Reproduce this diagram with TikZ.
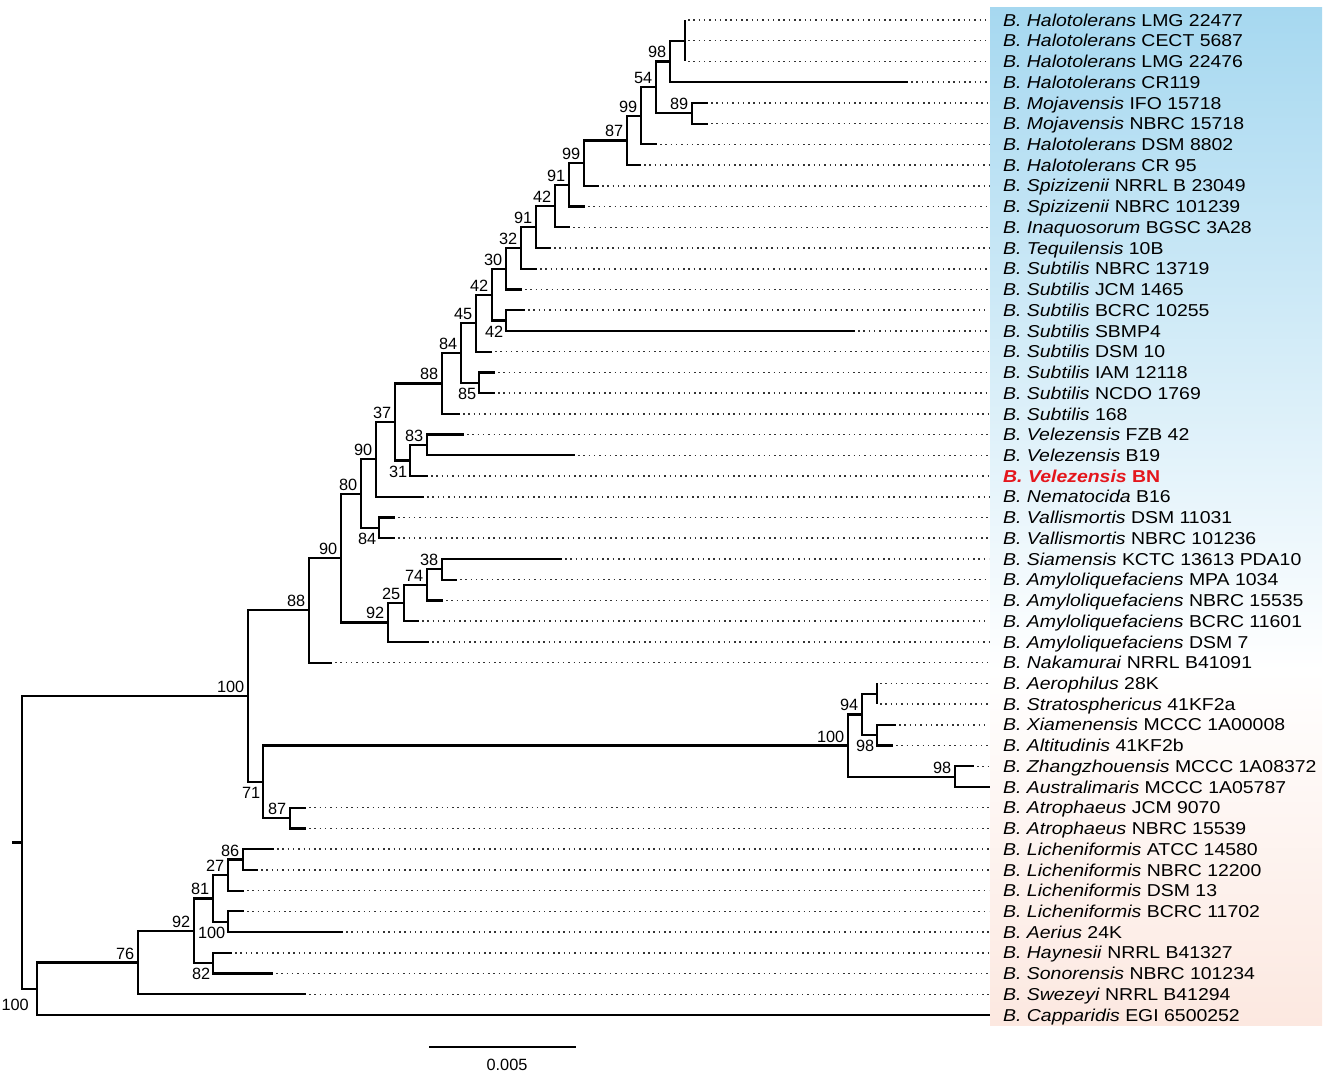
\documentclass[tikz,border=0pt]{standalone}
\usepackage{fontspec}
\setmainfont{Liberation Sans}
\newfontfamily\leaffont[FakeStretch=1.13]{Liberation Sans}
\definecolor{bgblue}{RGB}{166,216,240}
\definecolor{bgpeach}{RGB}{252,232,224}
\definecolor{bnred}{RGB}{228,22,28}
\tikzset{
  br/.style={line width=2.2pt},
  dotl/.style={line width=1.5pt, dash pattern=on 1.5pt off 3.8pt, black!80},
  leaf/.style={anchor=west, inner sep=0pt, text height=12.3pt, text depth=0pt,
    font=\leaffont\fontsize{17.2}{20}\selectfont},
  bsa/.style={anchor=base east, inner sep=0pt, font=\fontsize{16.3}{18}\selectfont},
  bsb/.style={anchor=north east, inner sep=0pt, font=\fontsize{16.3}{18}\selectfont},
}
\begin{document}
\begin{tikzpicture}[x=1pt,y=-1pt]
\useasboundingbox (0,0) rectangle (1325,1077);
% background
\shade[top color=bgblue, bottom color=white] (990,7) rectangle (1322,670.5);
\shade[top color=white, bottom color=bgpeach] (990,670) rectangle (1322,1025);
% leaves
\foreach \i/\tx/\lab in {
 1/685/{\textit{B. Halotolerans} LMG 22477},
 2/685/{\textit{B. Halotolerans} CECT 5687},
 3/685/{\textit{B. Halotolerans} LMG 22476},
 4/908/{\textit{B. Halotolerans} CR119},
 5/708/{\textit{B. Mojavensis} IFO 15718},
 6/708/{\textit{B. Mojavensis} NBRC 15718},
 7/657/{\textit{B. Halotolerans} DSM 8802},
 8/641/{\textit{B. Halotolerans} CR 95},
 9/599/{\textit{B. Spizizenii} NRRL B 23049},
 10/585/{\textit{B. Spizizenii} NBRC 101239},
 11/570/{\textit{B. Inaquosorum} BGSC 3A28},
 12/551/{\textit{B. Tequilensis} 10B},
 13/537/{\textit{B. Subtilis} NBRC 13719},
 14/522/{\textit{B. Subtilis} JCM 1465},
 15/525/{\textit{B. Subtilis} BCRC 10255},
 16/855/{\textit{B. Subtilis} SBMP4},
 17/492/{\textit{B. Subtilis} DSM 10},
 18/495/{\textit{B. Subtilis} IAM 12118},
 19/495/{\textit{B. Subtilis} NCDO 1769},
 20/460/{\textit{B. Subtilis} 168},
 21/464/{\textit{B. Velezensis} FZB 42},
 22/575/{\textit{B. Velezensis} B19},
 23/428/{\textcolor{bnred}{\bfseries\itshape B. Velezensis \upshape BN}},
 24/424/{\textit{B. Nematocida} B16},
 25/395/{\textit{B. Vallismortis} DSM 11031},
 26/395/{\textit{B. Vallismortis} NBRC 101236},
 27/562/{\textit{B. Siamensis} KCTC 13613 PDA10},
 28/457/{\textit{B. Amyloliquefaciens} MPA 1034},
 29/443/{\textit{B. Amyloliquefaciens} NBRC 15535},
 30/419/{\textit{B. Amyloliquefaciens} BCRC 11601},
 31/429/{\textit{B. Amyloliquefaciens} DSM 7},
 32/332/{\textit{B. Nakamurai} NRRL B41091},
 33/877/{\textit{B. Aerophilus} 28K},
 34/877/{\textit{B. Stratosphericus} 41KF2a},
 35/896/{\textit{B. Xiamenensis} MCCC 1A00008},
 36/893/{\textit{B. Altitudinis} 41KF2b},
 37/974/{\textit{B. Zhangzhouensis} MCCC 1A08372},
 38/990/{\textit{B. Australimaris} MCCC 1A05787},
 39/306/{\textit{B. Atrophaeus} JCM 9070},
 40/306/{\textit{B. Atrophaeus} NBRC 15539},
 41/274/{\textit{B. Licheniformis} ATCC 14580},
 42/258/{\textit{B. Licheniformis} NBRC 12200},
 43/244/{\textit{B. Licheniformis} DSM 13},
 44/244/{\textit{B. Licheniformis} BCRC 11702},
 45/343/{\textit{B. Aerius} 24K},
 46/232/{\textit{B. Haynesii} NRRL B41327},
 47/273/{\textit{B. Sonorensis} NBRC 101234},
 48/306/{\textit{B. Swezeyi} NRRL B41294},
 49/990/{\textit{B. Capparidis} EGI 6500252}}{
  \pgfmathsetmacro\yy{20+(\i-1)*20.729}
  \coordinate (L\i) at (\tx,\yy);
  \node[leaf] (T\i) at (1003,\yy) {\lab};
  \ifnum\tx<980
    \draw[dotl, shorten >=14pt, shorten <=3pt] (L\i) -- (T\i.west);
  \fi
}
% internal nodes
\coordinate (Na) at (685,40.73);
\coordinate (N98a) at (670,61.46);
\coordinate (N89) at (692,113.29);
\coordinate (N54) at (656,87.37);
\coordinate (N99a) at (641,115.87);
\coordinate (N87) at (627,140.49);
\coordinate (N99b) at (584,163.16);
\coordinate (N91a) at (569,184.86);
\coordinate (N42a) at (555,206.08);
\coordinate (N91b) at (536,227.05);
\coordinate (N32) at (521,247.90);
\coordinate (N30) at (506,268.69);
\coordinate (N42c) at (506,320.58);
\coordinate (N42b) at (492,294.63);
\coordinate (N45) at (476,323.15);
\coordinate (N85) at (479,382.77);
\coordinate (N84a) at (461,352.96);
\coordinate (N88a) at (442,383.41);
\coordinate (N83) at (427,444.95);
\coordinate (N31) at (410,460.49);
\coordinate (N37) at (395,421.95);
\coordinate (N90a) at (376,459.36);
\coordinate (N84b) at (379,527.87);
\coordinate (N80) at (361,493.61);
\coordinate (N38) at (442,569.33);
\coordinate (N74) at (427,584.87);
\coordinate (N25) at (404,603.01);
\coordinate (N92a) at (388,622.45);
\coordinate (N90b) at (341,558.03);
\coordinate (N88b) at (309,610.32);
\coordinate (Nb) at (877,693.70);
\coordinate (N98b) at (877,735.16);
\coordinate (N94) at (862,714.43);
\coordinate (N98c) at (955,776.62);
\coordinate (N100a) at (848,745.52);
\coordinate (N87b) at (290,818.08);
\coordinate (N71) at (263,781.80);
\coordinate (N100b) at (248,696.06);
\coordinate (N86) at (243,859.54);
\coordinate (N27) at (228,875.08);
\coordinate (N100c) at (228,921.72);
\coordinate (N81) at (213,898.40);
\coordinate (N82) at (213,963.18);
\coordinate (N92b) at (194,930.79);
\coordinate (N76) at (138,962.53);
\coordinate (N100d) at (37,988.77);
\coordinate (Root) at (22,842.41);
\coordinate (R0) at (12,842.41);
% branches
\foreach \p/\c in {Na/L1,Na/L2,Na/L3,N98a/Na,N98a/L4,N89/L5,N89/L6,N54/N98a,N54/N89,
  N99a/N54,N99a/L7,N87/N99a,N87/L8,N99b/N87,N99b/L9,N91a/N99b,N91a/L10,N42a/N91a,N42a/L11,
  N91b/N42a,N91b/L12,N32/N91b,N32/L13,N30/N32,N30/L14,N42c/L15,N42c/L16,N42b/N30,N42b/N42c,
  N45/N42b,N45/L17,N85/L18,N85/L19,N84a/N45,N84a/N85,N88a/N84a,N88a/L20,N83/L21,N83/L22,
  N31/N83,N31/L23,N37/N88a,N37/N31,N90a/N37,N90a/L24,N84b/L25,N84b/L26,N80/N90a,N80/N84b,
  N38/L27,N38/L28,N74/N38,N74/L29,N25/N74,N25/L30,N92a/N25,N92a/L31,N90b/N80,N90b/N92a,
  N88b/N90b,N88b/L32,Nb/L33,Nb/L34,N98b/L35,N98b/L36,N94/Nb,N94/N98b,N98c/L37,N98c/L38,
  N100a/N94,N100a/N98c,N87b/L39,N87b/L40,N71/N100a,N71/N87b,N100b/N88b,N100b/N71,
  N86/L41,N86/L42,N27/N86,N27/L43,N100c/L44,N100c/L45,N81/N27,N81/N100c,N82/L46,N82/L47,
  N92b/N81,N92b/N82,N76/N92b,N76/L48,N100d/N76,N100d/L49,Root/N100b,Root/N100d}{
  \draw[br] (\p) |- (\c);
}
\draw[br] (R0) -- (Root);
% bootstrap values above
\foreach \n/\v in {N98a/98,N54/54,N89/89,N99a/99,N87/87,N99b/99,N91a/91,N42a/42,N91b/91,
  N32/32,N30/30,N42b/42,N45/45,N84a/84,N88a/88,N83/83,N37/37,N90a/90,N80/80,N38/38,N74/74,
  N25/25,N92a/92,N90b/90,N88b/88,N100b/100,N100a/100,N94/94,N98c/98,N87b/87,N86/86,N27/27,
  N81/81,N92b/92,N76/76}{
  \node[bsa] (b\n) at ([shift={(-3.5,-3.5)}]\n) {\v};
}
% bootstrap values below
\foreach \n/\v in {N42c/42,N85/85,N31/31,N84b/84,N71/71,N98b/98,N100c/100,N82/82}{
  \node[bsb] (b\n) at ([shift={(-2.5,5)}]\n) {\v};
}
\node[bsb] (bN100d) at ([shift={(-8,10)}]N100d) {100};
% scale bar
\coordinate (SB1) at (429,1047);
\coordinate (SB2) at (576,1047);
\draw[br] (SB1) -- (SB2);
\node[inner sep=0pt, font=\fontsize{16.3}{18}\selectfont] (SBL) at (507,1065) {0.005};
\end{tikzpicture}
\end{document}
